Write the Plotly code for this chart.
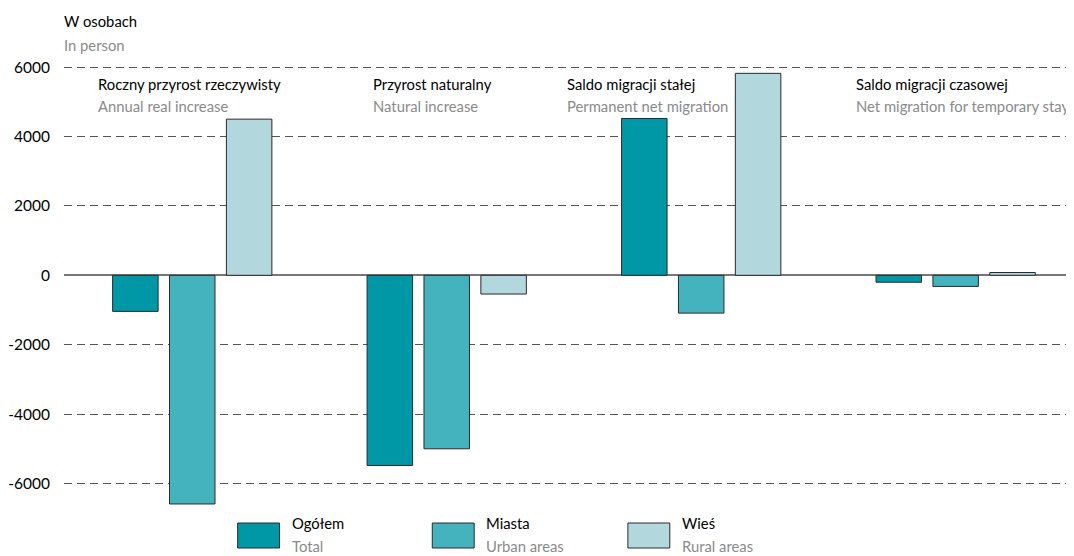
import plotly.graph_objects as go

categories_pl = ["Roczny przyrost rzeczywisty", "Przyrost naturalny", "Saldo migracji stałej", "Saldo migracji czasowej"]
categories_en = ["Annual real increase", "Natural increase", "Permanent net migration", "Net migration for temporary stay"]
x_pos = [0, 1, 2, 3]

total = [-1040, -5480, 4520, -200]
urban = [-6590, -5000, -1090, -320]
rural = [4500, -540, 5820, 80]

series_pl = ["Ogółem", "Miasta", "Wieś"]
series_en = ["Total", "Urban areas", "Rural areas"]
colors = ["#0097a7", "#45b3bd", "#b2d7dd"]

tick_vals = [-6000, -4000, -2000, 0, 2000, 4000, 6000]
tick_text = ["-6000", "-4000", "-2000", "0", "2000", "4000", "6000"]

# page body has an 8px margin: work in reference pixel coords and shift
OFF = 8
W, H = 1074 - OFF, 556 - OFF
PLOT_L, PLOT_R, PLOT_T, PLOT_B = 62, 1074, 56, 514  # reference pixel coords of plot area
ML, MR, MT, MB = PLOT_L - OFF, 0, PLOT_T - OFF, 556 - PLOT_B
FONT = "Lato, Liberation Sans, sans-serif"
FS = 14.8
GRAY = "#8a8a8a"

fig = go.Figure()
for vals, name, col in zip([total, urban, rural], series_pl, colors):
    fig.add_trace(go.Bar(x=x_pos, y=vals, name=name,
                         marker=dict(color=col, line=dict(color="#2a2a2a", width=1)),
                         showlegend=False))

def px_x(px):
    return (px - PLOT_L) / (PLOT_R - PLOT_L)

def px_y(py):
    return 1 - (py - PLOT_T) / (PLOT_B - PLOT_T)

def txt(x, y, s, color):
    return dict(x=px_x(x - 3), y=px_y(y), xref="paper", yref="paper", text=s, showarrow=False,
                xanchor="left", yanchor="middle", font=dict(size=FS, color=color, family=FONT))

annotations = [txt(63, 21, "W osobach", "black"), txt(63, 45, "In person", GRAY)]

cat_left_px = [97, 373, 567, 857]
for i in range(4):
    annotations.append(txt(cat_left_px[i], 84, categories_pl[i], "black"))
    annotations.append(txt(cat_left_px[i], 106, categories_en[i], GRAY))

shapes = []
legend_box_px = [236, 431, 627]
for i in range(3):
    bx = legend_box_px[i]
    shapes.append(dict(type="rect", xref="paper", yref="paper",
                       x0=px_x(bx), x1=px_x(bx + 42), y0=px_y(548), y1=px_y(523),
                       fillcolor=colors[i], line=dict(color="#2a2a2a", width=1)))
    annotations.append(txt(bx + 55, 523, series_pl[i], "black"))
    annotations.append(txt(bx + 55, 546, series_en[i], GRAY))

fig.update_layout(
    width=W, height=H,
    margin=dict(l=ML, r=MR, t=MT, b=MB, pad=0),
    paper_bgcolor="white", plot_bgcolor="white",
    barmode="group", bargap=0.3294, bargroupgap=0.2,
    font=dict(family=FONT, size=FS, color="black"),
    annotations=annotations, shapes=shapes,
    xaxis=dict(range=[-0.504, 3.465], showticklabels=False, showgrid=False, zeroline=False,
               showline=False, ticks=""),
    yaxis=dict(range=[-6879, 6320], tickvals=tick_vals, ticktext=tick_text, showgrid=True,
               gridcolor="#555555", gridwidth=1, griddash="8px,5px",
               zeroline=True, zerolinecolor="#777777", zerolinewidth=1.5, showline=False,
               ticks="", ticklabelstandoff=13, tickfont=dict(size=15.5, color="black", family=FONT)),
)

fig.write_html("out.html")
